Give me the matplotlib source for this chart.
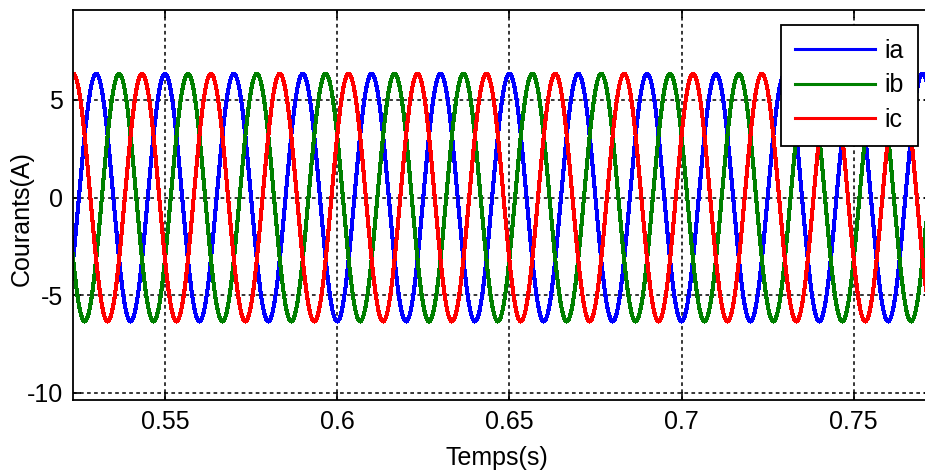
import numpy as np
import matplotlib
matplotlib.use('Agg')
import matplotlib.pyplot as plt

plt.rcParams['font.family'] = ['Liberation Sans', 'DejaVu Sans']
plt.rcParams['font.size'] = 18
plt.rcParams['axes.unicode_minus'] = False

# one period of ia (60 samples, Ts = 0.02/60 s), starting at the peak at t = 0.55 s
ia_period = [6.35, 6.315, 6.211, 6.039, 5.801, 5.499, 5.137, 4.719, 4.249, 3.733,
             3.175, 2.583, 1.962, 1.320, 0.664, 0.0, -0.664, -1.320, -1.962, -2.583,
             -3.175, -3.733, -4.249, -4.719, -5.137, -5.499, -5.801, -6.039, -6.211, -6.315,
             -6.35, -6.315, -6.211, -6.039, -5.801, -5.499, -5.137, -4.719, -4.249, -3.733,
             -3.175, -2.583, -1.962, -1.320, -0.664, 0.0, 0.664, 1.320, 1.962, 2.583,
             3.175, 3.733, 4.249, 4.719, 5.137, 5.499, 5.801, 6.039, 6.211, 6.315]
n_per = 60          # samples per period
t_start = 0.51      # first sample time (two periods before 0.55)
n_periods = 14
period = 0.02

xticks = [0.55, 0.6, 0.65, 0.7, 0.75]
xtick_labels = ['0.55', '0.6', '0.65', '0.7', '0.75']
yticks = [-10, -5, 0, 5]
names = ['ia', 'ib', 'ic']
colors = ['#0000ff', '#008000', '#ff0000']

Ts = period / n_per
t = t_start + np.arange(n_per * n_periods + 1) * Ts
ia = np.tile(ia_period, n_periods + 1)[:len(t)]
ib = np.tile(np.roll(ia_period, n_per // 3), n_periods + 1)[:len(t)]      # lag 120 deg
ic = np.tile(np.roll(ia_period, 2 * n_per // 3), n_periods + 1)[:len(t)]  # lag 240 deg

W, H = 925, 475
fig = plt.figure(figsize=(W / 100, H / 100), dpi=100)
left_px, right_px, top_px, bot_px = 73, 932, 10, 400
ax = fig.add_axes([left_px / W, 1 - bot_px / H, (right_px - left_px) / W, (bot_px - top_px) / H])

for y, c, n in zip([ia, ib, ic], colors, names):
    ax.plot(t, y, color=c, lw=2.2, label=n, antialiased=False)

# x scale: 0.55 at 165 px, 0.75 at 853.7 px
pxu = (853.7 - 165) / 0.2
ax.set_xlim(0.55 - (165 - left_px) / pxu, 0.75 + (right_px - 853.7) / pxu)
# y scale: 5 at 100 px, -10 at 392.7 px
pyu = (392.7 - 100) / 15
ax.set_ylim(-10 - (bot_px - 392.7) / pyu, 5 + (100 - top_px) / pyu)

ax.set_xticks(xticks)
ax.set_xticklabels(xtick_labels)
ax.set_yticks(yticks)
ax.tick_params(direction='in', top=True, right=True, length=6, width=1.2, pad=7)
ax.grid(True, color='black', linestyle=(0, (2.4, 2.2)), linewidth=1.1)
for s in ax.spines.values():
    s.set_linewidth(1.3)

ax.set_xlabel('Temps(s)', va='top')
ax.xaxis.set_label_coords((497 - left_px) / (right_px - left_px), (bot_px - 446) / (bot_px - top_px))
ax.set_ylabel('Courants(A)')
ax.yaxis.set_label_coords((34 - left_px) / (right_px - left_px), (bot_px - 219) / (bot_px - top_px))

leg = ax.legend(loc='upper right', bbox_to_anchor=(918 / W, 1 - 25 / H),
                bbox_transform=fig.transFigure, fancybox=False, framealpha=1,
                edgecolor='black', handlelength=3.2, handletextpad=0.4,
                labelspacing=0.42, borderpad=0.55, borderaxespad=0)
leg.get_frame().set_linewidth(1.3)

fig.savefig('out.png', dpi=100)
